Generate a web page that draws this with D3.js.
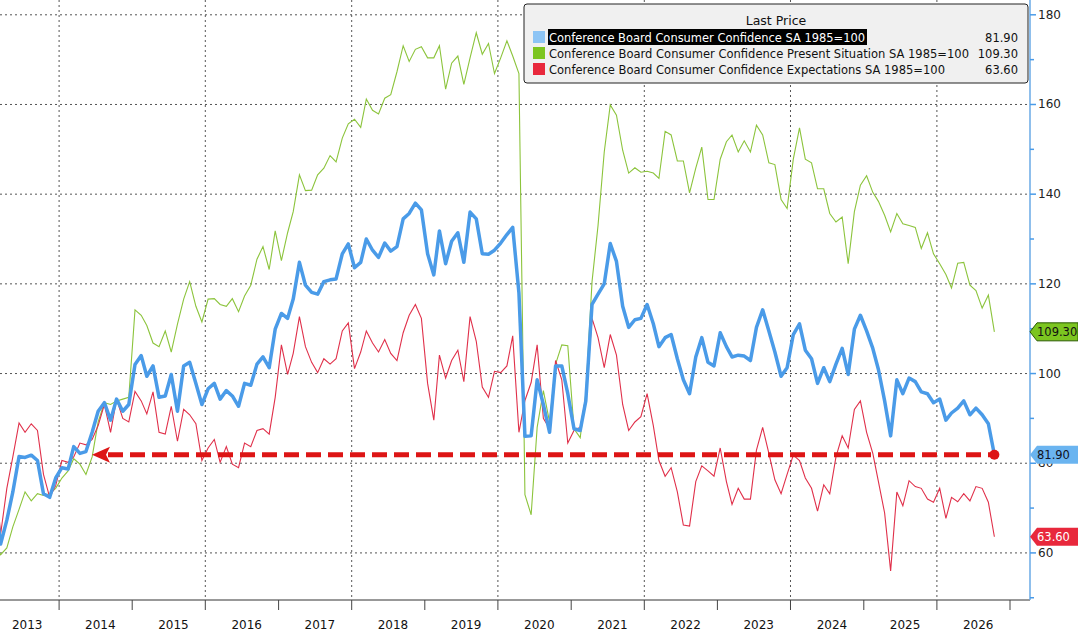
<!DOCTYPE html>
<html><head><meta charset="utf-8">
<script src="https://cdn.jsdelivr.net/npm/d3@7"></script>
<style>
body{margin:0;background:#fff;font-family:"DejaVu Sans",sans-serif;}
svg{display:block;}
</style></head>
<body><svg id="chart" width="1078" height="631"></svg>
<script>
// monthly readings, first value = Jan 2013
var overall=[72,62,67.3,73.6,81.5,81.3,81.8,80.6,73.2,72.4,76.7,79,78.7,83.7,82.2,82.6,86.9,91.6,93.5,89.6,94.3,91.6,93.1,102,104,99.4,101.7,94.7,95,99.8,91.6,101.7,102.5,97.8,93.1,96.6,97.8,94.3,96.2,95,92.7,97.8,97.4,102.1,103.7,101.3,109.9,113.4,112.3,116.6,124.8,119.7,118.1,117.7,120.5,120.9,121.1,126.7,128.9,123.6,124.8,130,127.5,125.9,129.1,127.3,128.3,134.5,135.7,138,136.5,126.7,122,131.8,124.5,129.5,131.4,124.8,136,134.5,126.7,126.6,127.5,129.1,131,132.6,118,86,86.1,98.6,93.1,86.9,101.7,101.7,95.5,87.7,87.3,93.9,115.4,117.7,120,129,125,115,110.3,112,112.3,115.4,111.1,106,108,108.7,103.3,98.6,95.5,103.7,108,102.5,101.7,109.1,106,103.7,104.1,103.9,102.9,110.3,114.2,109.5,104.8,99.4,101.3,108.7,111.1,105.2,103.3,97.8,101.3,98.2,102.1,105.6,99.8,109.9,113,109.5,105.6,100.9,93.9,86.1,98.6,95.5,99,98.2,95.9,95.5,93.5,94.3,89.6,91.2,92.3,93.9,90.8,92.3,90.8,88.8,81.9];
var present=[62,59.6,61.1,65.8,69.7,73.6,71.6,73.2,72.8,73.2,74.4,76.7,78.3,81,79.8,77.5,81.4,89.2,93.5,93.1,93.9,94.3,94.7,114.2,113,110.7,106.8,106,109.5,104.8,111,116.6,120.5,115,111.5,116.6,116.7,115.4,115,116.7,113.8,117.3,119.7,125.5,128.3,123.2,131.8,125.2,131.4,136.1,144.3,140.8,140.9,144.3,145.8,148.6,147.2,152.5,155.7,156.7,154.9,161.2,158.7,157.9,161.4,162.2,167.3,173.1,169.6,172.3,172.9,170.4,170.4,173.1,163.4,169.2,170.8,164.5,170.4,176,171.2,173.6,166.9,170.4,174.2,170.8,166.9,73,68.5,88,96.2,89.2,102.1,106.4,106.2,87.7,85.7,95.5,120.5,133,149.4,159.9,157.6,149.8,144.7,145.9,144.9,145.1,144.7,143.5,154,153.2,147.4,147.4,140.3,145.8,150.5,138.8,138.8,147.8,151.7,153.2,149.4,151.9,149.4,155.4,153.2,147,146.6,138.8,136.8,147.8,154.8,147.8,147,141.2,141.2,135.7,133.8,134.9,124.5,136.1,142,144.1,140.4,138.4,135.3,131.6,135.7,133.4,133,132.6,127.9,131.4,126.7,124.5,122.1,119.1,124.6,124.8,119.7,118.5,114.6,117.5,109.3];
var expect=[78,64.2,74.4,81.4,89,86.9,88.8,87.3,77.5,72.4,75,80.6,80.2,81.4,84.5,84.1,85.3,88.4,93.1,86.9,94.3,90,89.2,96,93.9,91,95.9,86.9,86.5,92.7,84.9,92,90.8,88.8,80.6,83.4,85.3,80.2,83.7,79.8,79,84.5,83.7,87.3,87.7,86.5,94.7,106.4,99.8,104.5,112.7,106,102.5,100.2,103.3,102.1,103.3,109.5,111.3,101.1,104.8,109.5,106.8,104.8,107.6,104.5,102.9,109.1,113,115.4,112.3,97.8,89.6,104.1,99,102.9,105.2,98.2,112.7,107.2,97,94.7,100.5,100.2,101.7,108.4,86.9,94,98,106.4,90,87.7,102.9,98.6,84.5,87.3,88,94.7,112.3,108,101.3,108.7,104.1,93.1,87.3,89.2,90.4,95.5,88.4,80.6,77.1,79,73.6,66.2,66,75.9,79.4,78.3,77.1,83.4,75.9,70.8,74.4,72,72,82.9,88,82.2,76.3,73.2,77.5,81.8,80.6,76.7,74.4,69.3,75.2,73.2,81.4,86.1,83.4,92,93.9,86.9,82.2,75.9,68.9,56,73.6,70.5,76.1,74.8,74.4,72,71.3,74.4,67.7,72.4,71.4,73.2,71.6,74.8,74.4,71.3,63.6];
var years=[2013,2014,2015,2016,2017,2018,2019,2020,2021,2022,2023,2024,2025,2026];
var yTicks=[60,80,100,120,140,160,180];
var legendNames=["Conference Board Consumer Confidence SA 1985=100","Conference Board Consumer Confidence Present Situation SA 1985=100","Conference Board Consumer Confidence Expectations SA 1985=100"];
var lastValues=["81.90","109.30","63.60"];
var colors=["#4a9be8","#8cc43c","#e0304a"];
var swatch=["#8cc4f5","#7cc520","#e8283c"];

var svg=d3.select("#chart");
var W=1030,H=600;
var x=d3.scaleTime().domain([new Date(2013,0,1),new Date(2027,0,1)]).range([-14,1010]);
var y=d3.scaleLinear().domain([49.5,183.3]).range([H,0]);
var dateOf=function(i){return new Date(2013,i+1,15);};

svg.append("defs").append("clipPath").attr("id","clip")
	.append("rect").attr("width",W).attr("height",H);

// grid
svg.selectAll(".hg").data(yTicks).enter().append("line")
	.attr("x1",0).attr("x2",W).attr("y1",d=>y(d)).attr("y2",d=>y(d))
	.attr("stroke","#555").attr("stroke-dasharray","2,3").attr("stroke-width",1);
var bounds=d3.range(2013,2028).map(function(yr){return new Date(yr,0,1);});
svg.selectAll(".vg").data(bounds.filter(d=>d.getFullYear()%2==0)).enter().append("line")
	.attr("x1",d=>x(d)).attr("x2",d=>x(d)).attr("y1",0).attr("y2",H)
	.attr("stroke","#555").attr("stroke-dasharray","2,3").attr("stroke-width",1);

// x axis
svg.append("line").attr("x1",0).attr("x2",W).attr("y1",H).attr("y2",H).attr("stroke","#333");
svg.selectAll(".xt").data(bounds).enter().append("line")
	.attr("x1",d=>x(d)).attr("x2",d=>x(d)).attr("y1",H).attr("y2",H+10).attr("stroke","#444");
svg.selectAll(".xl").data(years).enter().append("text")
	.attr("x",d=>x(new Date(d,6,1))+5).attr("y",H+29).attr("text-anchor","middle")
	.attr("font-size",12).attr("fill","#111").text(d=>d);

// y axis right
svg.append("line").attr("x1",W).attr("x2",W).attr("y1",0).attr("y2",H).attr("stroke","#6aaae6").attr("stroke-width",1.5);
svg.selectAll(".yt").data(d3.range(50,181,10)).enter().append("line")
	.attr("x1",W).attr("x2",d=>W+(d%20==0?6:4)).attr("y1",d=>y(d)).attr("y2",d=>y(d))
	.attr("stroke","#4a9be8").attr("stroke-width",1.5);
svg.selectAll(".yl").data(yTicks).enter().append("text")
	.attr("x",W+8).attr("y",d=>y(d)+4).attr("font-size",12).attr("fill","#222").text(d=>d);

// lines
var g=svg.append("g").attr("clip-path","url(#clip)");
var line=d3.line().x((d,i)=>x(dateOf(i))).y(d=>y(d));
g.append("path").datum(present).attr("d",line).attr("fill","none").attr("stroke",colors[1]).attr("stroke-width",1.1);
g.append("path").datum(expect).attr("d",line).attr("fill","none").attr("stroke",colors[2]).attr("stroke-width",1.1);
g.append("path").datum(overall).attr("d",line).attr("fill","none").attr("stroke",colors[0]).attr("stroke-width",3.5).attr("stroke-linejoin","round");

// dashed reference line at latest value
var last=overall[overall.length-1];
var lx=x(dateOf(overall.length-1)),ly=y(last);
g.append("line").attr("x1",108).attr("x2",lx).attr("y1",ly).attr("y2",ly)
	.attr("stroke","#dd1515").attr("stroke-width",5).attr("stroke-dasharray","15,7");
g.append("path").attr("d","M92,"+ly+"L110,"+(ly-8)+"L106,"+ly+"L110,"+(ly+8)+"Z").attr("fill","#dd1515");
g.append("circle").attr("cx",lx).attr("cy",ly).attr("r",5).attr("fill","#dd1515");

// right tags
var tags=[{v:109.3,t:"109.30",bg:"#7cc520",fg:"#111"},{v:81.9,t:"81.90",bg:"#6ab4f0",fg:"#112"},{v:63.6,t:"63.60",bg:"#e8283c",fg:"#fff"}];
tags.forEach(function(tg){
	var ty=y(tg.v);
	svg.append("path").attr("d","M"+W+","+ty+"L"+(W+7)+","+(ty-9)+"L1078,"+(ty-9)+"L1078,"+(ty+9)+"L"+(W+7)+","+(ty+9)+"Z")
		.attr("fill",tg.bg).attr("stroke",tg.bg==="#7cc520"?"#2a5a00":"none");
	svg.append("text").attr("x",W+7).attr("y",ty+4.5).attr("font-size",11.5).attr("fill",tg.fg).text(tg.t);
});

// legend
var lg=svg.append("g");
lg.append("rect").attr("x",524).attr("y",4).attr("width",504).attr("height",79).attr("rx",3)
	.attr("fill","#f0f0f0").attr("stroke","#222");
lg.append("text").attr("x",776).attr("y",25).attr("text-anchor","middle").attr("font-size",12.5).attr("fill","#111").text("Last Price");
var widths=[316,420,396];
legendNames.forEach(function(n,i){
	var ry=37+i*16;
	lg.append("rect").attr("x",533).attr("y",ry-6).attr("width",12).attr("height",12).attr("fill",swatch[i]);
	if(i==0){
		lg.append("rect").attr("x",548).attr("y",ry-8).attr("width",widths[0]+3).attr("height",16).attr("fill","#000");
	}
	lg.append("text").attr("x",549).attr("y",ry+5).attr("font-size",12).attr("fill",i==0?"#fff":"#111")
		.attr("textLength",widths[i]).attr("lengthAdjust","spacingAndGlyphs").text(n);
	lg.append("text").attr("x",1018).attr("y",ry+5).attr("text-anchor","end").attr("font-size",11.5).attr("fill","#111").text(lastValues[i]);
});
</script></body></html>
